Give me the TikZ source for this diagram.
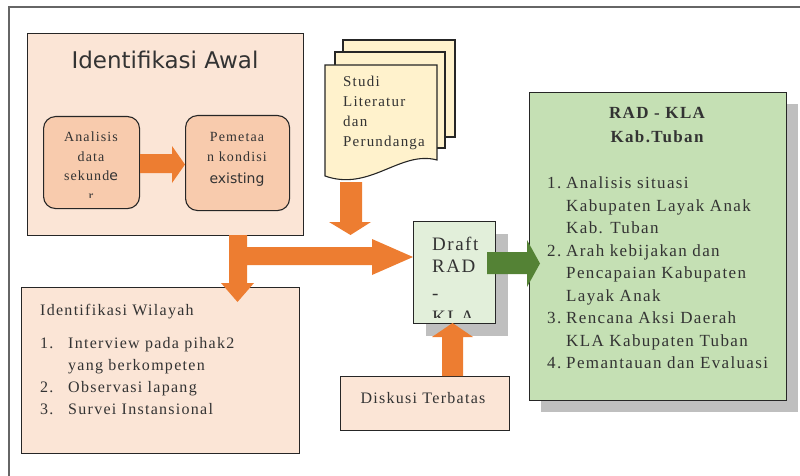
\documentclass[tikz,border=0pt]{standalone}
\usepackage{fontspec}
\setmainfont{Liberation Serif}[LetterSpace=8]
\newfontfamily\titlefont{DejaVu Sans}
\newfontfamily\sansfont{DejaVu Sans}
\usetikzlibrary{calc}
\definecolor{pinkfill}{HTML}{FBE5D6}
\definecolor{peach}{HTML}{F8CBAD}
\definecolor{orangearrow}{HTML}{ED7D31}
\definecolor{greenarrow}{HTML}{548235}
\definecolor{greenbox}{HTML}{C5E0B4}
\definecolor{lightgreen}{HTML}{E2EFDA}
\definecolor{docfill}{HTML}{FFF2CC}
\definecolor{shadowgray}{HTML}{BFBFBF}
\definecolor{textgray}{HTML}{333333}
\begin{document}
\begin{tikzpicture}[x=1pt,y=-1pt,
  box/.style={draw=black!85, line width=1.1pt, inner sep=0pt, anchor=north west},
  txt/.style={inner sep=0pt, text=textgray},
  oarrow/.style={fill=orangearrow, draw=none},
  garrow/.style={fill=greenarrow, draw=none},
  shadowbox/.style={fill=shadowgray, draw=none},
  sheet/.style={fill=docfill, draw=black!85, line width=1.1pt}]
\useasboundingbox (0,0) rectangle (800,476);
% outer frame
\draw[line width=1.6pt, draw=black!60] (9,476) -- (9,7) -- (800,7);

% Identifikasi Awal
\node[box, fill=pinkfill, minimum width=276pt, minimum height=202pt] (awal) at (27,33) {};
\node[txt, anchor=base, font=\titlefont\fontsize{23}{26}\selectfont] (awaltitle) at (165,69) {Identifikasi Awal};
\node[box, fill=peach, rounded corners=12pt, minimum width=96pt, minimum height=92pt] (analisis) at (43,116) {};
\node[box, fill=peach, rounded corners=12pt, minimum width=104pt, minimum height=95pt] (pemetaan) at (185,115) {};
\begin{scope}
\clip (43,116) rectangle (139,197);
\node[txt, anchor=base, font=\fontsize{14}{19.5}\selectfont] (analisistext) at (91,142)
  {\begin{tabular}[t]{@{}c@{}}Analisis\\data\\sekund{\sansfont\addfontfeature{LetterSpace=0}e}\\r\end{tabular}};
\end{scope}
\node[txt, anchor=base, font=\fontsize{14}{20}\selectfont] (pemetaantext) at (237,142)
  {\begin{tabular}[t]{@{}c@{}}Pemetaa\\n kondisi\\[2pt]{\sansfont existing}\end{tabular}};
% arrow analisis -> pemetaan
\fill[oarrow] (analisis.east |- 0,154) -- (172,154) -- (172,146) -- (pemetaan.west |- 0,164.5) -- (172,183) -- (172,173) -- (analisis.east |- 0,173) -- cycle;

% Studi literatur documents
\draw[sheet] (343,40) rectangle (455,137);
\draw[sheet] (335,52) rectangle (445,148);
\draw[sheet] (325,65) -- (437,65) -- (437,160) .. controls (400,150) and (370,192) .. (325,176) -- cycle;
\node[txt, anchor=base west, font=\fontsize{15}{20}\selectfont] (studi) at (343,87)
  {\begin{tabular}[t]{@{}l@{}}Studi\\Literatur\\dan\\Perundanga\end{tabular}};

% Identifikasi Wilayah
\node[box, fill=pinkfill, minimum width=278pt, minimum height=166pt] (wilayah) at (21,287) {};
\node[txt, anchor=base west, font=\fontsize{16}{22}\selectfont] (wilayahtitle) at (40,315) {Identifikasi Wilayah};
\node[txt, anchor=base west, font=\fontsize{16}{22}\selectfont] (wilayahlist) at (40,348.5)
  {\begin{tabular}[t]{@{}p{28pt}@{}l@{}}
   1. & Interview pada pihak2\\
      & yang berkompeten\\
   2. & Observasi lapang\\
   3. & Survei Instansional
   \end{tabular}};

% Draft RAD - KLA
\fill[shadowbox] (426,234) rectangle (508,336);
\node[box, fill=lightgreen, minimum width=82pt, minimum height=102pt] (draft) at (413,221) {};
\begin{scope}
\clip (413,221) rectangle (495,317);
\node[txt, anchor=base west, font=\fontsize{19}{22}\selectfont] (drafttext) at (432,250)
  {\begin{tabular}[t]{@{}l@{}}Draft\\RAD\\[5pt]-\\[2pt]KLA\end{tabular}};
\end{scope}

% Diskusi Terbatas
\node[box, fill=pinkfill, minimum width=169pt, minimum height=54pt] (diskusi) at (340,376) {};
\node[txt, anchor=base, font=\fontsize{16}{20}\selectfont] (diskusitext) at (423,403) {Diskusi Terbatas};

% RAD - KLA box
\fill[shadowbox] (541,104) rectangle (798,412);
\node[box, fill=greenbox, minimum width=257pt, minimum height=308pt] (rad) at (529,92) {};
\node[txt, anchor=base, font=\bfseries\fontsize{17}{24}\selectfont] (radtitle) at (657,119)
  {\begin{tabular}[t]{@{}c@{}}RAD - KLA\\Kab.Tuban\end{tabular}};
\node[txt, anchor=base west, font=\fontsize{17}{22.5}\selectfont] (radlist) at (547,188.5)
  {\begin{tabular}[t]{@{}p{19pt}@{}l@{}}
   1. & Analisis situasi\\
      & Kabupaten Layak Anak\\
      & Kab. Tuban\\
   2. & Arah kebijakan dan\\
      & Pencapaian Kabupaten\\
      & Layak Anak\\
   3. & Rencana Aksi Daerah\\
      & KLA Kabupaten Tuban\\
   4. & Pemantauan dan Evaluasi
   \end{tabular}};

% arrow studi -> draft
\fill[oarrow] (340,182) -- (362,182) -- (362,222) -- (371,222) -- (350.5,235) -- (329,222) -- (340,222) -- cycle;
% branching arrow from awal
\fill[oarrow] (229,235) -- (247,235) -- (247,247) -- (372,247) -- (372,239) -- (draft.west |- 0,257) -- (372,275) -- (372,265) -- (247,265) -- (247,283) -- (254,283) -- (237.5,302) -- (221,283) -- (229,283) -- cycle;
% arrow diskusi -> draft
\fill[oarrow] (442,376) -- (442,337) -- (432,337) -- (452.5,323) -- (473,337) -- (463,337) -- (463,376) -- cycle;
% green arrow draft -> rad
\fill[garrow] (487,252) -- (527,252) -- (527,240) -- (540,263.5) -- (527,287) -- (527,274) -- (487,274) -- cycle;
\end{tikzpicture}
\end{document}
